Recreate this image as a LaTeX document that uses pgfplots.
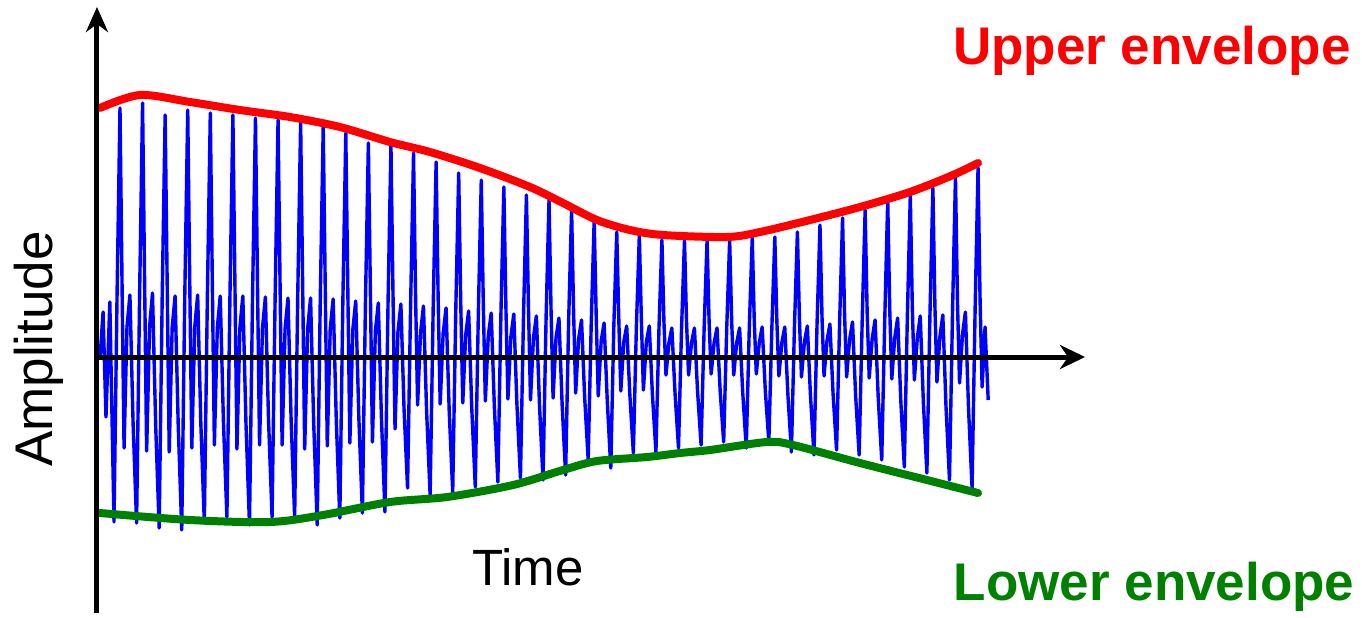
\documentclass[border=0pt]{standalone}
\usepackage{fontspec}
\setmainfont{Liberation Sans}
\usepackage{pgfplots}
\pgfplotsset{compat=1.18}
\usetikzlibrary{arrows.meta}
\definecolor{envred}{RGB}{255,0,0}
\definecolor{envgreen}{RGB}{0,128,0}
\definecolor{sigblue}{RGB}{0,0,255}
\begin{document}
\begin{tikzpicture}
\begin{axis}[
  scale only axis, width=494pt, height=303pt,
  xmin=-1.019, xmax=42.737, ymin=-256, ymax=350,
  axis x line=middle, axis y line=left,
  axis line style={line width=2.5pt},
  every inner x axis line/.append style={-{Stealth[length=12.5pt,width=12pt,inset=4pt]}},
  every outer y axis line/.append style={-{Stealth[length=12.5pt,width=11pt,inset=4pt]}},
  xtick=\empty, ytick=\empty,
  axis on top, clip=false,
]
\addplot[sigblue, line width=1.7pt, line join=round] table {
x y
-0.88 0
-0.75 45
-0.62 -60
-0.45 55
-0.265 -165
-0.13 62
0 249
0.09 75
0.18 -91
0.31 30
0.44 62
0.58 -66
0.735 -166
0.87 64
1 254
1.09 76
1.18 -94
1.31 30
1.44 64
1.58 -68
1.735 -171
1.87 61
2 242
2.09 73
2.18 -95
2.31 29
2.44 61
2.58 -69
2.735 -173
2.87 62
3 247
3.09 74
3.18 -91
3.31 30
3.44 62
3.58 -66
3.735 -166
3.87 61
4 244
4.09 73
4.18 -88
4.31 29
4.44 61
4.58 -64
4.735 -160
4.87 61
5 242
5.09 73
5.18 -92
5.31 29
5.44 61
5.58 -67
5.735 -168
5.87 60
6 239
6.09 72
6.18 -88
6.31 29
6.44 60
6.58 -64
6.735 -160
6.87 59
7 237
7.09 71
7.18 -88
7.31 28
7.44 59
7.58 -64
7.735 -160
7.87 59
8 235
8.09 71
8.18 -92
8.31 28
8.44 59
8.58 -67
8.735 -168
8.87 58
9 230
9.09 69
9.18 -89
9.31 28
9.44 58
9.58 -64
9.735 -161
9.87 56
10 224
10.09 67
10.18 -86
10.31 27
10.44 56
10.58 -62
10.735 -156
10.87 54
11 214
11.09 64
11.18 -85
11.31 26
11.44 54
11.58 -62
11.735 -155
11.87 53
12 212
12.09 64
12.18 -72
12.31 25
12.44 53
12.58 -52
12.735 -131
12.87 51
13 204
13.09 61
13.18 -48
13.31 24
13.44 51
13.58 -55
13.735 -138
13.87 49
14 195
14.09 59
14.18 -47
14.31 23
14.44 49
14.58 -54
14.735 -135
14.87 46
15 184
15.09 55
15.18 -46
15.31 22
15.44 46
15.58 -52
15.735 -130
15.87 44
16 177
16.09 53
16.18 -44
16.31 21
16.44 44
16.58 -50
16.735 -125
16.87 43
17 170
17.09 51
17.18 -42
17.31 20
17.44 43
17.58 -48
17.735 -121
17.87 41
18 162
18.09 49
18.18 -43
18.31 19
18.44 41
18.58 -49
18.735 -123
18.87 39
19 157
19.09 47
19.18 -41
19.31 19
19.44 39
19.58 -47
19.735 -118
19.87 37
20 147
20.09 44
20.18 -36
20.31 18
20.44 37
20.58 -41
20.735 -103
20.87 34
21 137
21.09 41
21.18 -39
21.31 16
21.44 34
21.58 -44
21.735 -111
21.87 31
22 125
22.09 38
22.18 -34
22.31 15
22.44 31
22.58 -38
22.735 -96
22.87 31
23 122
23.09 37
23.18 -33
23.31 15
23.44 31
23.58 -38
23.735 -95
23.87 29
24 117
24.09 35
24.18 -18
24.31 14
24.44 29
24.58 -36
24.735 -91
24.87 29
25 117
25.09 35
25.18 -18
25.31 14
25.44 29
25.58 -35
25.735 -88
25.87 29
26 117
26.09 35
26.18 -17
26.31 14
26.44 29
26.58 -34
26.735 -85
26.87 29
27 117
27.09 35
27.18 -18
27.31 14
27.44 29
27.58 -36
27.735 -91
27.87 30
28 119
28.09 36
28.18 -17
28.31 14
28.44 30
28.58 -34
28.735 -85
28.87 30
29 120
29.09 36
29.18 -19
29.31 14
29.44 30
29.58 -38
29.735 -95
29.87 31
30 125
30.09 38
30.18 -20
30.31 15
30.44 31
30.58 -39
30.735 -98
30.87 33
31 132
31.09 40
31.18 -19
31.31 16
31.44 33
31.58 -37
31.735 -93
31.87 35
32 139
32.09 42
32.18 -20
32.31 17
32.44 35
32.58 -39
32.735 -98
32.87 37
33 147
33.09 44
33.18 -21
33.31 18
33.44 37
33.58 -41
33.735 -103
33.87 39
34 157
34.09 47
34.18 -22
34.31 19
34.44 39
34.58 -44
34.735 -110
34.87 41
35 162
35.09 49
35.18 -23
35.31 19
35.44 41
35.58 -46
35.735 -116
35.87 42
36 169
36.09 51
36.18 -25
36.31 20
36.44 42
36.58 -49
36.735 -123
36.87 45
37 180
37.09 54
37.18 -26
37.31 22
37.44 45
37.58 -52
37.735 -131
37.87 47
38 189
38.09 57
38.18 -30
38.31 30
38.45 -43
};
\addplot[envred, line width=4pt, smooth, line cap=round] coordinates {
(-0.886,249) (0.886,262) (3.100,255) (5.314,247) (7.529,240) (9.743,230)
(11.957,215) (13.729,205) (15.943,189) (18.157,170) (19.619,154) (21.125,137)
(22.586,127) (24.048,122) (26.882,120) (28.344,125) (30.558,137) (32.772,150)
(34.987,165) (36.891,182) (37.998,194)
};
\addplot[envgreen, line width=4pt, smooth, line cap=round] coordinates {
(-0.886,-156) (3.100,-163) (6.643,-165) (8.990,-158) (11.957,-145) (14.482,-140)
(17.405,-128) (19.619,-113) (21.125,-104) (23.339,-100) (24.801,-96) (26.129,-93)
(28.654,-85) (29.805,-88) (32.772,-106) (35.739,-123) (37.998,-136)
};
\node[anchor=base, font=\bfseries\fontsize{26.5}{30}\selectfont, text=envred] at (axis cs:45.70,292) {Upper envelope};
\node[anchor=base, font=\bfseries\fontsize{26.5}{30}\selectfont, text=envgreen] at (axis cs:45.80,-243) {Lower envelope};
\node[anchor=base, font=\fontsize{25.5}{30}\selectfont] at (axis cs:18.07,-228) {Time};
\node[anchor=base, rotate=90, font=\fontsize{26.5}{30}\selectfont] at (axis cs:-2.967,8) {Amplitude};
\path (axis cs:-5.314,-256) rectangle (axis cs:55.004,357);
\end{axis}
\end{tikzpicture}
\end{document}
